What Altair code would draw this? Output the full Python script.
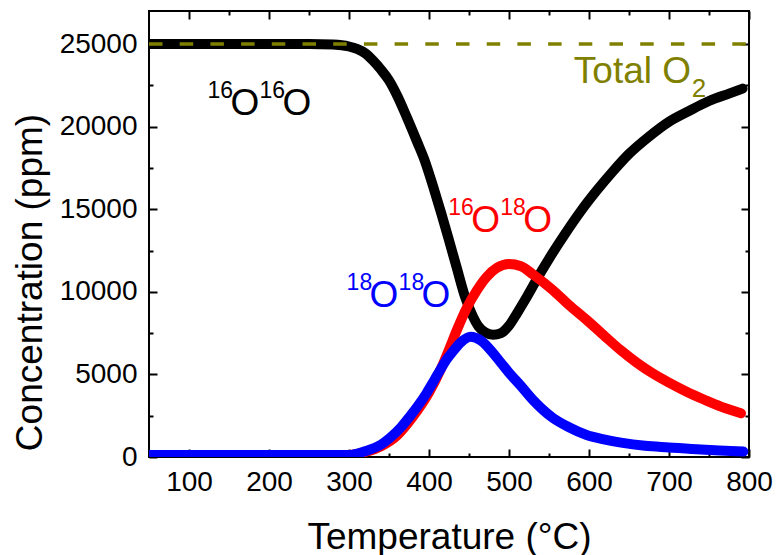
import altair as alt
import pandas as pd

# ---------------- data ----------------
black_T = [50, 250, 280, 300, 310, 320, 330, 340, 350, 360, 372, 385, 395, 405, 415, 424, 435,
           445, 455, 462, 470, 480, 490, 500, 510, 520, 530, 540, 550, 570, 590, 610, 630, 650,
           675, 700, 725, 750, 775, 792]
black_C = [25000, 25000, 24970, 24850, 24700, 24450, 24000, 23450, 22800, 21900, 20600, 19100,
           17900, 16400, 14800, 13300, 11400, 9700, 8500, 7900, 7550, 7400, 7500, 7950, 8700,
           9500, 10350, 11200, 12000, 13500, 14900, 16150, 17300, 18350, 19400, 20300, 20950,
           21550, 22000, 22300]

red_T = [50, 300, 320, 340, 360, 380, 400, 415, 425, 435, 447, 460, 472, 485, 500, 515, 530,
         555, 575, 597, 620, 640, 660, 680, 700, 722, 745, 765, 790]
red_C = [120, 120, 300, 650, 1300, 2450, 3900, 5350, 6500, 7700, 9000, 10100, 10900, 11450,
         11680, 11550, 11050, 10100, 9200, 8300, 7300, 6450, 5700, 5050, 4500, 3950, 3450,
         3050, 2650]

blue_T = [50, 300, 320, 340, 351, 365, 376, 387, 397, 406, 414, 422, 430, 440, 452, 465, 480,
          490, 500, 514, 530, 555, 575, 597, 620, 640, 670, 700, 740, 770, 793]
blue_C = [120, 120, 350, 750, 1150, 1800, 2450, 3150, 3870, 4600, 5270, 5900, 6400, 6950,
          7280, 7050, 6300, 5700, 5100, 4350, 3450, 2360, 1800, 1330, 1050, 870, 680, 580,
          450, 380, 330]

total_T = [50, 800]
total_C = [25000, 25000]

# isotope labels: anchor (T, C), mass numbers, colour
ann_T = [123, 424, 297]
ann_C = [20700, 13620, 9080]
ann_m1 = ["16", "16", "18"]
ann_m2 = ["16", "18", "18"]
ann_col = ["#000000", "#FF0000", "#0000FF"]

total_label_T = [581]
total_label_C = [22640]

x_tick_values = list(range(100, 801, 50))
y_tick_values = list(range(0, 25001, 2500))

# ---------------- chart ----------------
FONT = "Liberation Sans"
xscale = alt.Scale(domain=[50, 800], nice=False, zero=False)
yscale = alt.Scale(domain=[0, 27000], nice=False)


def tsize(step):
    return {"condition": {"test": f"datum.value % {step} === 0", "value": -8}, "value": -4}


x_bottom = alt.Axis(
    orient="bottom", values=x_tick_values, format="d",
    labelExpr="datum.value % 100 === 0 ? datum.label : ''",
    tickSize=tsize(100), tickWidth=2, tickColor="black", domain=False, grid=False,
    labelFont=FONT, labelFontSize=28, labelColor="black", labelPadding=19,
    labelFlush=False, labelOverlap=False,
    title="Temperature (°C)", titleFont=FONT, titleFontSize=37, titleFontWeight="normal",
    titleColor="black", titleX=300, titleY=91, titleAlign="center",
    titleBaseline="alphabetic",
)
y_left = alt.Axis(
    orient="left", values=y_tick_values, format="d",
    labelExpr="datum.value % 5000 === 0 ? datum.label : ''",
    tickSize=tsize(5000), tickWidth=2, tickColor="black", domain=False, grid=False,
    labelFont=FONT, labelFontSize=28, labelColor="black", labelPadding=20,
    labelFlush=False, labelOverlap=False, labelBaseline="middle",
    title="Concentration (ppm)", titleFont=FONT, titleFontSize=37, titleFontWeight="normal",
    titleColor="black", titleAngle=-90, titleX=-108, titleY=271, titleAlign="center",
    titleBaseline="alphabetic",
)
x_top = alt.Axis(
    orient="top", values=x_tick_values, tickSize=tsize(100), tickWidth=2,
    tickColor="black", labels=False, domain=False, grid=False, title="",
)
y_right = alt.Axis(
    orient="right", values=y_tick_values, tickSize=tsize(5000), tickWidth=2,
    tickColor="black", labels=False, domain=False, grid=False, title="",
)


def series(T, C, color, xaxis=None, yaxis=None):
    df = pd.DataFrame({"T": T, "C": C})
    xenc = alt.X("T:Q", scale=xscale, axis=xaxis) if xaxis is not None else alt.X("T:Q", scale=xscale, axis=None)
    yenc = alt.Y("C:Q", scale=yscale, axis=yaxis) if yaxis is not None else alt.Y("C:Q", scale=yscale, axis=None)
    return alt.Chart(df).mark_line(
        color=color, strokeWidth=10, strokeCap="round", strokeJoin="round", clip=True,
        interpolate="monotone",
    ).encode(x=xenc, y=yenc)


black = series(black_T, black_C, "#000000", x_bottom, y_left)
red = series(red_T, red_C, "#FF0000")
blue = series(blue_T, blue_C, "#0000FF")

dashed = alt.Chart(pd.DataFrame({"T": total_T, "C": total_C})).mark_line(
    color="#808000", strokeWidth=3.5, strokeDash=[13.5, 17.2], clip=True
).encode(
    x=alt.X("T:Q", scale=xscale, axis=x_top),
    y=alt.Y("C:Q", scale=yscale, axis=y_right),
)

ann = pd.DataFrame({"T": ann_T, "C": ann_C, "m1": ann_m1, "m2": ann_m2, "col": ann_col})


def piece(text_enc, dx, dy, size):
    return alt.Chart(ann).mark_text(
        align="left", baseline="alphabetic", dx=dx, dy=dy, fontSize=size, font=FONT
    ).encode(
        x=alt.X("T:Q", scale=xscale, axis=None),
        y=alt.Y("C:Q", scale=yscale, axis=None),
        text=text_enc,
        color=alt.Color("col:N", scale=None, legend=None),
    )


sup1 = piece(alt.Text("m1:N"), 0, -17, 23)
o1 = piece(alt.value("O"), 23, 0, 37)
sup2 = piece(alt.Text("m2:N"), 52, -17, 23)
o2 = piece(alt.value("O"), 75, 0, 37)

tot_df = pd.DataFrame({"T": total_label_T, "C": total_label_C})
tot_main = alt.Chart(tot_df).mark_text(
    align="left", baseline="alphabetic", fontSize=37, font=FONT, color="#808000", text="Total O"
).encode(x=alt.X("T:Q", scale=xscale, axis=None), y=alt.Y("C:Q", scale=yscale, axis=None))
tot_sub = alt.Chart(tot_df).mark_text(
    align="left", baseline="alphabetic", fontSize=26, font=FONT, color="#808000", text="2",
    dx=118, dy=14,
).encode(x=alt.X("T:Q", scale=xscale, axis=None), y=alt.Y("C:Q", scale=yscale, axis=None))

chart = alt.layer(
    black, red, blue, dashed, sup1, o1, sup2, o2, tot_main, tot_sub
).resolve_axis(
    x="independent", y="independent"
).properties(
    width=600, height=446,
    padding={"left": 149, "top": 11, "right": 27, "bottom": 98},
    autosize=alt.AutoSizeParams(type="none"),
    background="white",
).configure_view(stroke="black", strokeWidth=2)

chart.save("out.html", embed_options={"renderer": "svg", "actions": False})
